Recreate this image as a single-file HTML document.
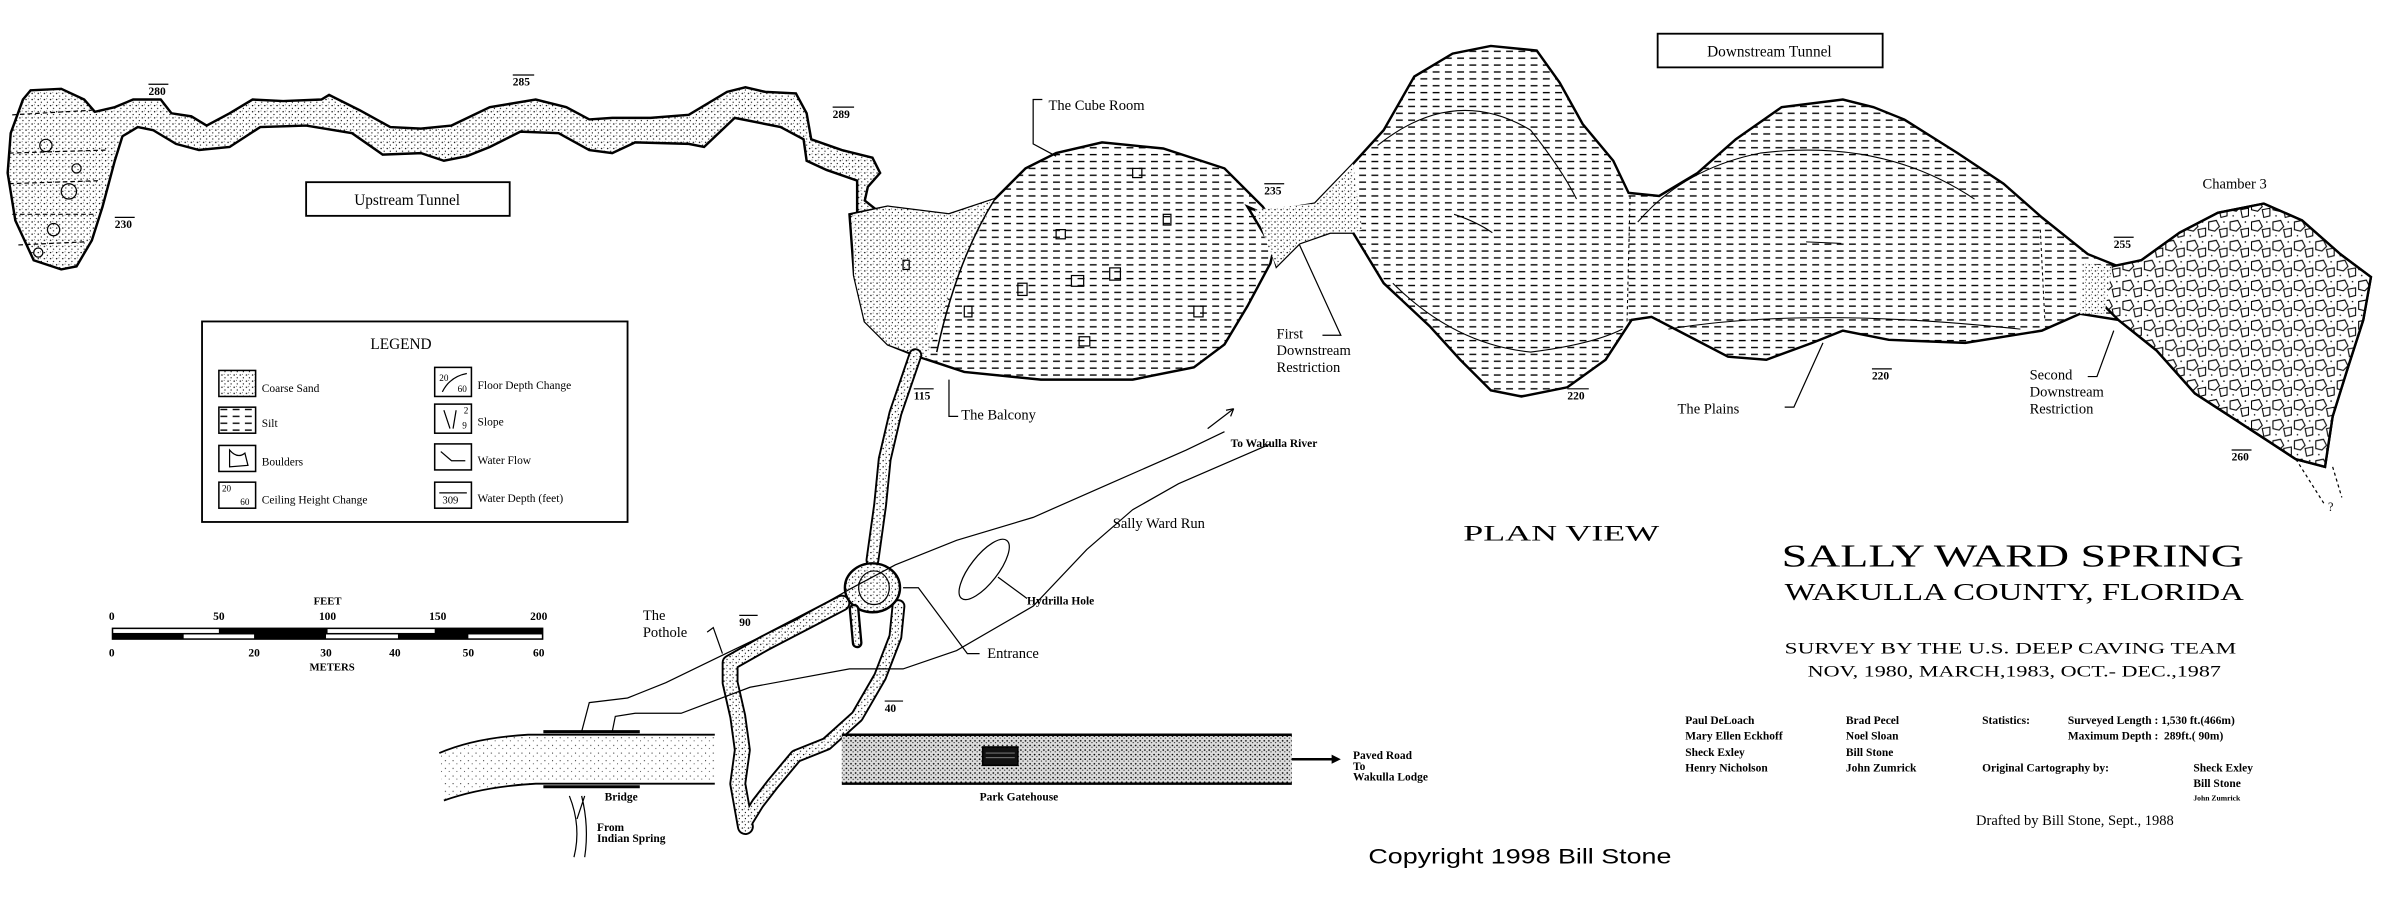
<!DOCTYPE html>
<html><head><meta charset="utf-8"><style>
html,body{margin:0;padding:0;background:#fff;}
svg{display:block}
.s{font-family:"Liberation Serif",serif;fill:#000}
.sb{font-family:"Liberation Serif",serif;fill:#000;font-weight:bold}
</style></head><body>
<svg width="2400" height="897" viewBox="0 0 1568 586" xmlns="http://www.w3.org/2000/svg">
<defs>
<pattern id="sand" width="4" height="4" patternUnits="userSpaceOnUse">
<rect width="4" height="4" fill="#fff"/><circle cx="1" cy="1" r="0.45" fill="#000"/><circle cx="3" cy="2.8" r="0.4" fill="#000"/><circle cx="2.5" cy="0.5" r="0.3" fill="#333"/>
</pattern>
<pattern id="silt" width="8" height="4.5" patternUnits="userSpaceOnUse">
<rect width="8" height="4.5" fill="#fff"/><line x1="0" y1="2" x2="4.5" y2="2" stroke="#000" stroke-width="0.9"/>
</pattern>
<pattern id="bould" width="14" height="13" patternUnits="userSpaceOnUse">
<rect width="14" height="13" fill="#fff"/><path d="M1 2 L6 1 L8 5 L5 8 L1 7 Z M8 7 L13 6 L13 11 L9 12 Z" fill="none" stroke="#000" stroke-width="0.7"/><circle cx="3" cy="11" r="0.5"/><circle cx="11" cy="2" r="0.5"/>
</pattern>
<pattern id="road1" width="5" height="5" patternUnits="userSpaceOnUse">
<rect width="5" height="5" fill="#fff"/><circle cx="1" cy="2" r="0.35" fill="#000"/><circle cx="3.5" cy="4" r="0.3" fill="#000"/>
</pattern>
<pattern id="road2" width="3" height="3" patternUnits="userSpaceOnUse">
<rect width="3" height="3" fill="#ddd"/><circle cx="1" cy="1" r="0.55" fill="#000"/><circle cx="2.4" cy="2.2" r="0.4" fill="#222"/>
</pattern>
</defs>

<!-- Upstream tunnel -->
<path d="M20,59 L40,58 55,65 62,73 75,70 87,65 105,65 112,74 125,76 135,82 150,74 165,65 185,66 210,65 215,62 235,72 255,83 275,84 295,82 320,70 350,65 370,70 385,78 400,77 425,77 450,75 475,60 487,57 500,60 520,61 527,74 530,91 550,98 570,103 575,113 567,122 565,131 575,139 L560,140 560,118 540,111 527,105 525,91 510,83 480,77 460,96 450,94 415,93 400,100 385,98 365,87 340,86 320,96 305,102 290,105 275,100 250,101 230,87 200,82 170,83 150,96 130,98 115,94 100,85 90,83 80,89 75,105 67,135 60,157 50,174 40,176 22,170 10,144 5,113 7,87 15,65 Z" fill="url(#sand)" stroke="#000" stroke-width="1.6"/>
<path d="M8,75 L60,72 M6,100 L70,98 M6,120 L65,118 M8,140 L62,140 M12,160 L55,158" stroke="#000" stroke-width="0.8" stroke-dasharray="3,2"/>
<g fill="none" stroke="#000" stroke-width="0.8"><circle cx="30" cy="95" r="4"/><circle cx="45" cy="125" r="5"/><circle cx="35" cy="150" r="4"/><circle cx="25" cy="165" r="3"/><circle cx="50" cy="110" r="3"/></g>

<!-- Cube room with west lobe -->
<path d="M555,140 L580,135 620,140 650,130 670,110 690,100 720,93 760,97 800,110 825,135 835,150 830,172 815,200 800,225 780,240 740,248 680,248 630,243 600,233 580,225 565,210 558,180 Z" fill="url(#silt)" stroke="#000" stroke-width="1.6"/>
<path d="M557,140 L580,135 620,140 650,130 640,150 625,180 612,215 605,234 580,225 565,210 558,180 Z" fill="url(#sand)" stroke="none"/>
<path d="M650,130 Q625,170 612,230" fill="none" stroke="#000" stroke-width="1"/>
<g fill="none" stroke="#000" stroke-width="0.8"><rect x="700" y="180" width="8" height="7"/><rect x="725" y="175" width="7" height="8"/><rect x="665" y="185" width="6" height="8"/><rect x="740" y="110" width="6" height="6"/><rect x="760" y="140" width="5" height="7"/><rect x="705" y="220" width="7" height="6"/><rect x="780" y="200" width="6" height="7"/><rect x="690" y="150" width="6" height="6"/><rect x="630" y="200" width="5" height="7"/><rect x="590" y="170" width="4" height="6"/></g>

<!-- Downstream + Chamber 3 -->
<path d="M815,135 L824,139 859,133 884,107 904,85 924,50 949,35 974,30 1004,33 1019,54 1034,81 1054,105 1064,126 1084,128 1109,113 1134,91 1164,70 1204,65 1224,70 1244,78 1279,100 1309,120 1334,142 1364,166 1384,174 1399,170 1424,152 1449,139 1479,133 1504,144 1529,166 1549,181 1544,209 1534,240 1524,272 1519,305 L1500,300 1474,283 1434,257 1409,229 1384,209 1359,205 1334,216 1284,224 1234,222 1204,216 1184,224 1154,235 1129,233 1104,220 1079,207 1066,209 1049,235 1024,253 994,259 974,255 954,235 934,213 904,185 884,152 869,152 849,159 834,174 830,160 Z" fill="url(#silt)" stroke="#000" stroke-width="1.6"/>
<path d="M820,137 L859,133 884,107 890,150 884,152 869,152 849,159 834,174 828,160 Z" fill="url(#sand)"/>
<path d="M1380,174 L1399,170 1424,152 1449,139 1479,133 1504,144 1529,166 1549,181 1544,209 1534,240 1524,272 1519,305 1500,300 1474,283 1434,257 1409,229 1384,209 1375,200 1372,185 Z" fill="url(#bould)" stroke="#000" stroke-width="1.6"/>
<path d="M1360,172 L1380,174 1375,205 1359,205 Z" fill="url(#sand)"/>
<path d="M1500,300 L1519,330 M1524,305 L1530,325" stroke="#000" stroke-width="0.8" stroke-dasharray="2,2" fill="none"/>
<text x="1521" y="334" class="s" font-size="8">?</text>
<g fill="none" stroke="#000" stroke-width="0.7">
<path d="M900,95 Q950,55 1000,85 Q1020,110 1030,130"/><path d="M1070,145 Q1100,110 1150,100 Q1230,90 1290,130"/>
<path d="M910,185 Q950,225 1000,230 Q1040,225 1060,215"/><path d="M1090,215 Q1180,200 1320,215"/>
<path d="M1065,128 L1063,210" stroke-dasharray="2,2"/><path d="M1333,150 L1336,210" stroke-dasharray="2,2"/>
<path d="M950,140 Q965,145 975,152"/><path d="M1180,158 L1203,159"/>
</g>

<!-- Passages to entrance -->
<g stroke-linecap="round" stroke-linejoin="round" fill="none">
<path d="M598,232 L585,270 578,300 575,330 570,366" stroke="#000" stroke-width="9"/>
<path d="M550,394 L525,407 500,420 477,433 477,446 482,468 485,490 482,512 487,540" stroke="#000" stroke-width="11"/>
<path d="M587,396 L585,416 575,442 560,468 540,486 520,494 505,512 495,525 487,538" stroke="#000" stroke-width="9"/>
<path d="M598,232 L585,270 578,300 575,330 570,366" stroke="url(#sand)" stroke-width="6.5"/>
<path d="M550,394 L525,407 500,420 477,433 477,446 482,468 485,490 482,512 487,540" stroke="url(#sand)" stroke-width="8.5"/>
<path d="M587,396 L585,416 575,442 560,468 540,486 520,494 505,512 495,525 487,538" stroke="url(#sand)" stroke-width="6.5"/>
</g>
<ellipse cx="570" cy="384" rx="18" ry="16" fill="url(#sand)" stroke="#000" stroke-width="1.6"/>
<ellipse cx="571" cy="384" rx="10" ry="11" fill="none" stroke="#000" stroke-width="0.8"/>
<path d="M558,398 L560,420" stroke="#000" stroke-width="7" stroke-linecap="round"/>
<path d="M558,398 L560,420" stroke="url(#sand)" stroke-width="4" stroke-linecap="round"/>

<!-- Run banks -->
<g fill="none" stroke="#000" stroke-width="0.8">
<path d="M380,478 L385,459 410,456 435,446 470,429 520,405 555,385 585,369 625,353 675,338 725,316 775,294 800,282"/>
<path d="M400,478 L402,468 415,466 445,466 490,449 555,437 590,437 625,425 675,396 710,359 740,333 770,316 830,290"/>
<path d="M789,280 L806,267"/><path d="M806,267 L801,268 M806,267 L804,272"/>
<ellipse cx="643" cy="372" rx="9" ry="24" transform="rotate(38 643 372)"/>
<path d="M652,377 L671,391"/>
<path d="M590,384 L600,384 632,427 L640,427"/>
<path d="M472,427 L466,410 L462,413"/>
<path d="M375,560 Q380,540 372,520 M382,560 Q385,540 380,520 M377,535 L382,520"/>
</g>

<!-- Roads -->
<path d="M287,492 Q310,482 345,480 L467,480 L467,512 L350,512 Q315,514 290,523" fill="url(#road1)" stroke="none"/>
<path d="M287,492 Q310,482 345,480 L467,480 M467,512 L350,512 Q315,514 290,523" fill="none" stroke="#000" stroke-width="1.2"/>
<rect x="550" y="480" width="294" height="32" fill="url(#road2)"/>
<path d="M550,480 L844,480 M550,512 L844,512" stroke="#000" stroke-width="1.6" fill="none"/>
<rect x="642" y="488" width="23" height="12" fill="#111" stroke="#000"/>
<path d="M644,492 L663,492 M644,495 L663,495" stroke="#888" stroke-width="0.6" fill="none"/>
<path d="M355,478 L418,478 M355,514 L418,514" stroke="#000" stroke-width="2" fill="none"/>
<path d="M844,496 L872,496" stroke="#000" stroke-width="1.6"/><path d="M870,493 L876,496 870,499 Z"/>

<!-- Legend -->
<rect x="132" y="210" width="278" height="131" fill="#fff" stroke="#000" stroke-width="1.2"/>
<text x="262" y="228" class="s" font-size="10" text-anchor="middle">LEGEND</text>
<g stroke="#000" stroke-width="1">
<rect x="143" y="242" width="24" height="17" fill="url(#sand)"/>
<rect x="143" y="266" width="24" height="17" fill="url(#silt)"/>
<rect x="143" y="291" width="24" height="17" fill="#fff"/>
<rect x="143" y="315" width="24" height="17" fill="#fff"/>
<rect x="284" y="240" width="24" height="19" fill="#fff"/>
<rect x="284" y="264" width="24" height="19" fill="#fff"/>
<rect x="284" y="290" width="24" height="17" fill="#fff"/>
<rect x="284" y="315" width="24" height="17" fill="#fff"/>
</g>
<g font-size="6" class="s"><text x="287" y="249">20</text><text x="299" y="256">60</text><text x="303" y="270">2</text><text x="302" y="280">9</text><text x="145" y="321">20</text><text x="157" y="330">60</text></g>
<path d="M289,256 Q294,246 305,244 M290,268 L294,280 M298,268 L296,280 M288,295 L295,301 L304,301 M287,322 L305,322 M150,294 Q155,300 160,296 L162,304 L150,305 Z" fill="none" stroke="#000" stroke-width="0.8"/>
<text x="289" y="329" class="s" font-size="7">309</text>
<g class="s" font-size="7.5">
<text x="171" y="256">Coarse Sand</text><text x="171" y="279">Silt</text><text x="171" y="304">Boulders</text><text x="171" y="329">Ceiling Height Change</text>
<text x="312" y="254">Floor Depth Change</text><text x="312" y="278">Slope</text><text x="312" y="303">Water Flow</text><text x="312" y="328">Water Depth (feet)</text>
</g>

<!-- Scale -->
<text x="214" y="395" class="sb" font-size="7" text-anchor="middle">FEET</text>
<g class="sb" font-size="7.5" text-anchor="middle"><text x="73" y="405">0</text><text x="143" y="405">50</text><text x="214" y="405">100</text><text x="286" y="405">150</text><text x="352" y="405">200</text>
<text x="73" y="429">0</text><text x="166" y="429">20</text><text x="213" y="429">30</text><text x="258" y="429">40</text><text x="306" y="429">50</text><text x="352" y="429">60</text></g>
<text x="217" y="438" class="sb" font-size="7" text-anchor="middle">METERS</text>
<rect x="73" y="410" width="282" height="8" fill="#000"/>
<rect x="74" y="411" width="69" height="2.5" fill="#fff"/><rect x="214" y="411" width="70" height="2.5" fill="#fff"/>
<rect x="120" y="414.5" width="46" height="2.5" fill="#fff"/><rect x="213" y="414.5" width="47" height="2.5" fill="#fff"/><rect x="306" y="414.5" width="48" height="2.5" fill="#fff"/>

<!-- Boxes -->
<rect x="200" y="119" width="133" height="22" fill="#fff" stroke="#000" stroke-width="1.2"/>
<text x="266" y="134" class="s" font-size="10" text-anchor="middle">Upstream Tunnel</text>
<rect x="1083" y="22" width="147" height="22" fill="#fff" stroke="#000" stroke-width="1.2"/>
<text x="1156" y="37" class="s" font-size="10" text-anchor="middle">Downstream Tunnel</text>

<!-- Depth numbers -->
<g class="sb" font-size="7.5">
<text x="97" y="62">280</text><text x="335" y="56">285</text><text x="544" y="77">289</text><text x="75" y="149">230</text>
<text x="826" y="127">235</text><text x="1381" y="162">255</text><text x="1024" y="261">220</text><text x="1223" y="248">220</text>
<text x="1458" y="301">260</text><text x="597" y="261">115</text><text x="483" y="409">90</text><text x="578" y="465">40</text>
</g>
<g stroke="#000" stroke-width="0.8" fill="none">
<path d="M97,55 L110,55 M335,49 L349,49 M544,70 L558,70 M75,142 L88,142 M826,120 L839,120 M1381,155 L1394,155 M1024,254 L1038,254 M1223,241 L1236,241 M1458,294 L1471,294 M597,254 L610,254 M483,402 L495,402 M578,458 L590,458"/>
<path d="M681,65 L675,65 L675,94 L690,102"/>
<path d="M626,272 L620,272 L620,248"/>
<path d="M864,219 L876,219 L849,160"/>
<path d="M1166,266 L1172,266 L1191,224"/>
<path d="M1364,246 L1370,246 L1381,216"/>
</g>

<!-- Labels -->
<g class="s" font-size="9.5">
<text x="685" y="72">The Cube Room</text>
<text x="628" y="274">The Balcony</text>
<text x="834" y="221">First</text><text x="834" y="232">Downstream</text><text x="834" y="243">Restriction</text>
<text x="1096" y="270">The Plains</text>
<text x="1326" y="248">Second</text><text x="1326" y="259">Downstream</text><text x="1326" y="270">Restriction</text>
<text x="1439" y="123">Chamber 3</text>
<text x="727" y="345">Sally Ward Run</text>
<text x="645" y="430">Entrance</text>
<text x="420" y="405">The</text><text x="420" y="416">Pothole</text>
</g>
<g class="sb" font-size="7.5">
<text x="804" y="292">To Wakulla River</text>
<text x="671" y="395">Hydrilla Hole</text>
<text x="395" y="523">Bridge</text>
<text x="390" y="543">From</text><text x="390" y="550">Indian Spring</text>
<text x="640" y="523">Park Gatehouse</text>
<text x="884" y="496">Paved Road</text><text x="884" y="503">To</text><text x="884" y="510">Wakulla Lodge</text>
</g>

<!-- Title block -->
<text x="956" y="353" class="s" font-size="14.5" textLength="128" lengthAdjust="spacingAndGlyphs">PLAN VIEW</text>
<text x="1164" y="370" class="s" font-size="21" textLength="302" lengthAdjust="spacingAndGlyphs">SALLY WARD SPRING</text>
<text x="1166" y="392" class="s" font-size="16" textLength="300" lengthAdjust="spacingAndGlyphs">WAKULLA COUNTY, FLORIDA</text>
<text x="1166" y="427" class="s" font-size="10" textLength="295" lengthAdjust="spacingAndGlyphs">SURVEY BY THE U.S. DEEP CAVING TEAM</text>
<text x="1181" y="442" class="s" font-size="10" textLength="270" lengthAdjust="spacingAndGlyphs">NOV, 1980, MARCH,1983, OCT.- DEC.,1987</text>
<g class="sb" font-size="7.5">
<text x="1101" y="473">Paul DeLoach</text><text x="1101" y="483">Mary Ellen Eckhoff</text><text x="1101" y="494">Sheck Exley</text><text x="1101" y="504">Henry Nicholson</text>
<text x="1206" y="473">Brad Pecel</text><text x="1206" y="483">Noel Sloan</text><text x="1206" y="494">Bill Stone</text><text x="1206" y="504">John Zumrick</text>
<text x="1295" y="473">Statistics:</text><text x="1351" y="473">Surveyed Length : 1,530 ft.(466m)</text>
<text x="1351" y="483">Maximum Depth :&#160;&#160;289ft.( 90m)</text>
<text x="1295" y="504">Original Cartography by:</text>
<text x="1433" y="504">Sheck Exley</text><text x="1433" y="514">Bill Stone</text><text x="1433" y="523" font-size="5">John Zumrick</text>
</g>
<text x="1291" y="539" class="s" font-size="9.5">Drafted by Bill Stone, Sept., 1988</text>
<text x="894" y="564" font-family="Liberation Sans, sans-serif" font-size="14" textLength="198" lengthAdjust="spacingAndGlyphs">Copyright 1998 Bill Stone</text>
</svg>
</body></html>
